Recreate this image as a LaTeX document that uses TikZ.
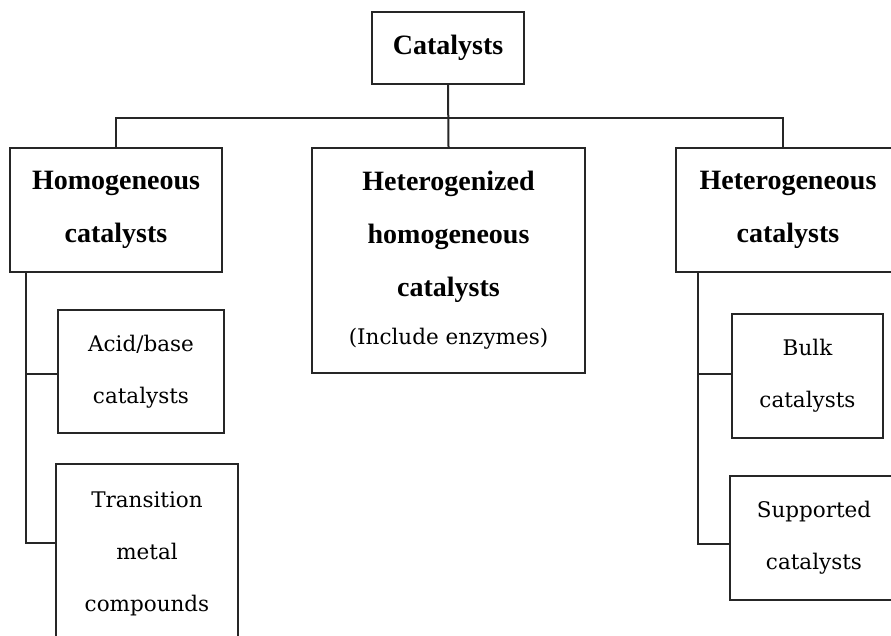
\documentclass[tikz,border=0pt]{standalone}
\usepackage{fontspec}
\setmainfont{DejaVu Serif}
\newfontfamily\boldf{Liberation Serif}
\begin{document}
\begin{tikzpicture}[x=1pt,y=-1pt,
  box/.style={draw=black!85, line width=2pt, rectangle, inner sep=0pt, align=center,
              font=\fontsize{21.5}{52}\selectfont},
  bbox/.style={box, font=\boldf\bfseries\fontsize{28}{53}\selectfont},
  conn/.style={draw=black!85, line width=2pt}]
\useasboundingbox (0,0) rectangle (891,636);
\clip (0,0) rectangle (891,636);
% top
\node[bbox, minimum width=152pt, minimum height=72pt] (cat) at (448,48) {Catalysts};
% level 1
\node[bbox, minimum width=212pt, minimum height=124pt] (homo) at (116,210) {Homogeneous\\catalysts};
\node[box, minimum width=273pt, minimum height=225pt, font=\fontsize{21.5}{53}\selectfont] (hgz) at (448.5,260.5)
  {{\boldf\bfseries\fontsize{28}{53}\selectfont Heterogenized}\\{\boldf\bfseries\fontsize{28}{53}\selectfont homogeneous}\\{\boldf\bfseries\fontsize{28}{53}\selectfont catalysts}\\[-5pt](Include enzymes)};
\node[bbox, minimum width=224pt, minimum height=124pt] (hetero) at (788,210) {Heterogeneous\\catalysts};
% level 2 left
\node[box, minimum width=166pt, minimum height=123pt] (acid) at (141,371.5) {Acid/base\\catalysts};
\node[box, minimum width=182pt, minimum height=180pt] (trans) at (147,554) {Transition\\metal\\compounds};
% level 2 right
\node[box, minimum width=151pt, minimum height=124pt] (bulk) at (807.5,376) {Bulk\\catalysts};
\node[box, minimum width=168pt, minimum height=124pt] (supp) at (814,538) {Supported\\catalysts};
% connectors top
\coordinate (hl) at (116,118);
\coordinate (hr) at (783,118);
\draw[conn] (cat.south) -- (hgz.north);
\draw[conn] (homo.north) -- (hl) -- (hr) -- (hr |- hetero.north);
% left tree
\coordinate (l0) at (26,272);
\coordinate (l1) at (26,374);
\coordinate (l2) at (26,543);
\draw[conn] (l0) -- (l2) -- (l2 -| trans.west);
\draw[conn] (l1) -- (l1 -| acid.west);
% right tree
\coordinate (r0) at (698,272);
\coordinate (r1) at (698,374);
\coordinate (r2) at (698,544);
\draw[conn] (r0) -- (r2) -- (r2 -| supp.west);
\draw[conn] (r1) -- (r1 -| bulk.west);
\end{tikzpicture}
\end{document}
